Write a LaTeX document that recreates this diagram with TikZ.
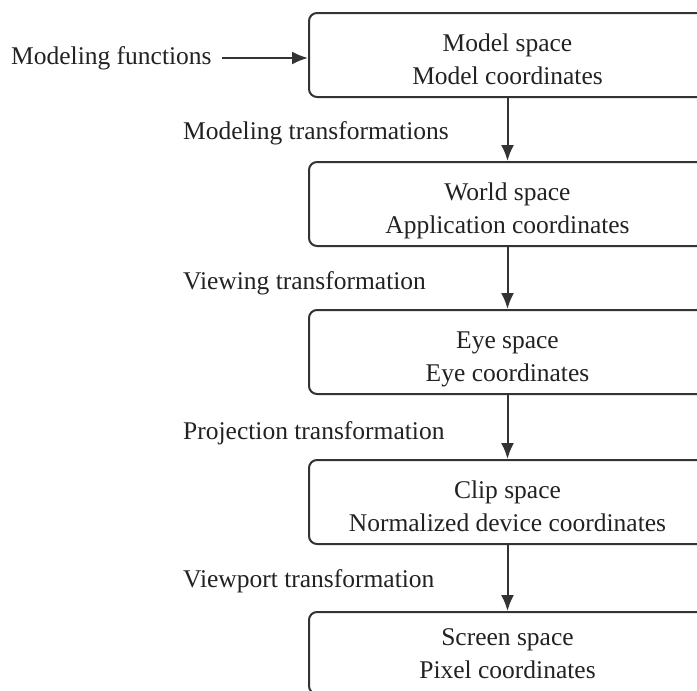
\documentclass[tikz,border=0pt]{standalone}
\usepackage{fontspec}
\setmainfont{Liberation Serif}
\usetikzlibrary{arrows.meta}
\definecolor{ink}{HTML}{222222}
\definecolor{edge}{HTML}{333333}
% two-line stage caption with fixed first-line height and last-line depth
\newcommand\stagetext[3][32pt]{\rule{0pt}{#1}#2\\#3\rule[-6pt]{0pt}{6pt}}
\begin{document}
\begin{tikzpicture}[x=1pt,y=-1pt,
  stagebox/.style={draw=edge, line width=2pt, rounded corners=8pt,
    minimum width=397pt, minimum height=84pt, align=center, text=ink,
    font=\fontsize{25.5}{33}\selectfont, inner sep=0pt},
  lbl/.style={anchor=west, text=ink, inner sep=0pt,
    font=\fontsize{25.5}{30}\selectfont},
  flow/.style={draw=edge, line width=2pt, -{Latex[length=16pt,width=13pt]}}]
  \clip (0,0) rectangle (697,691);
  \useasboundingbox (0,0) rectangle (697,691);

  % pipeline stages
  \node[stagebox] (model)  at (507.5,55)    {\stagetext{Model space}{Model coordinates}};
  \node[stagebox] (world)  at (507.5,204)   {\stagetext{World space}{Application coordinates}};
  \node[stagebox] (eye)    at (507.5,352)   {\stagetext{Eye space}{Eye coordinates}};
  \node[stagebox] (clip)   at (507.5,502)   {\stagetext{Clip space}{Normalized device coordinates}};
  \node[stagebox, minimum height=82pt] (screen) at (507.5,653)
    {\stagetext[24pt]{Screen space}{Pixel coordinates}};

  % transformation labels
  \node[lbl] (mfun) at (11,58)  {Modeling functions};
  \node[lbl] (mtr)  at (183,133) {Modeling transformations};
  \node[lbl] (vtr)  at (183,283) {Viewing transformation};
  \node[lbl] (ptr)  at (183,433) {Projection transformation};
  \node[lbl] (vptr) at (183,581) {Viewport transformation};

  % connectors
  \draw[flow, shorten <=10pt] (mfun.east) -- (mfun.east -| model.west);
  \draw[flow] (model.south) -- (world.north);
  \draw[flow] (world.south) -- (eye.north);
  \draw[flow] (eye.south) -- (clip.north);
  \draw[flow] (clip.south) -- (screen.north);
\end{tikzpicture}
\end{document}
